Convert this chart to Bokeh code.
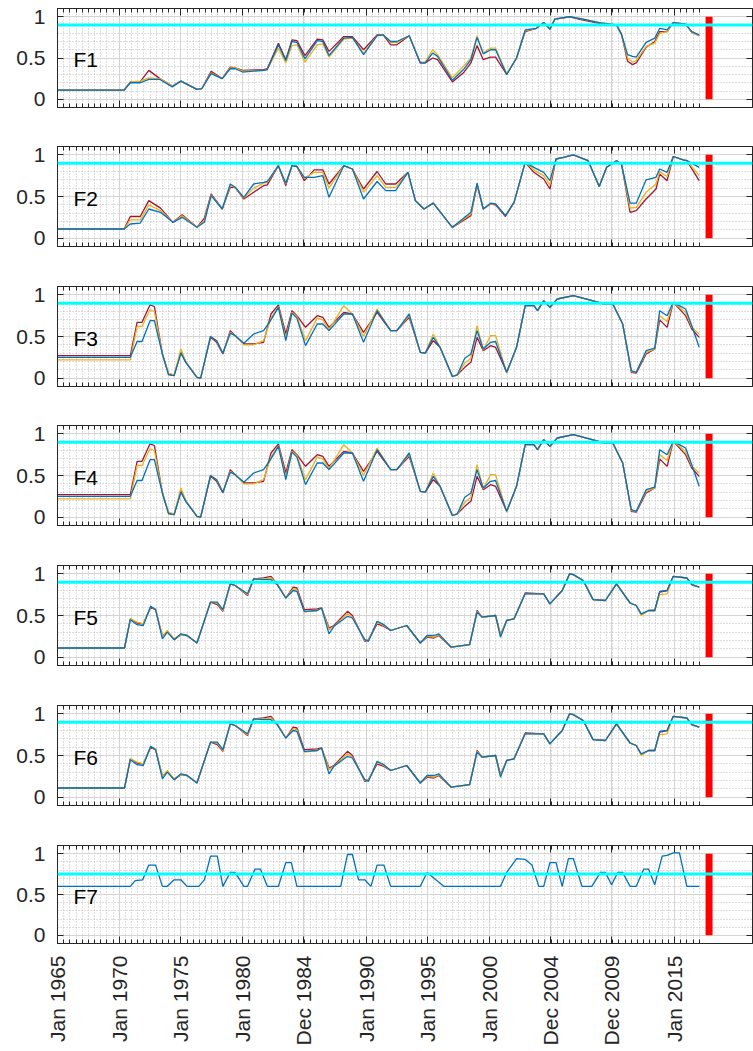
import math
import numpy as np
from bokeh.plotting import figure
from bokeh.layouts import column
from bokeh.models import FixedTicker, LinearAxis, Span, Label, Range1d, Grid
from bokeh.embed import file_html
from bokeh.resources import INLINE

# ---------------- data ----------------
tick_years = [1965.0, 1970.0, 1975.0, 1980.0, 1984.92, 1990.0, 1995.0, 2000.0, 2004.92, 2009.92, 2015.0]
tick_labels = ["Jan 1965", "Jan 1970", "Jan 1975", "Jan 1980", "Dec 1984", "Jan 1990",
               "Jan 1995", "Jan 2000", "Dec 2004", "Dec 2009", "Jan 2015"]
ytick_vals = [0, 0.5, 1]
ytick_labels = ["0", "0.5", "1"]
panel_names = ["F1", "F2", "F3", "F4", "F5", "F6", "F7"]
thresholds = [0.9, 0.9, 0.9, 0.9, 0.9, 0.9, 0.75]
cutoff_year = 2017.8
cutoff_low = 0.0
cutoff_high = 1.0

f1_x = [1965.0, 1970.4, 1970.9, 1971.7, 1972.4, 1973.3, 1974.3, 1975.0, 1976.3, 1976.7,
        1977.45, 1978.35, 1979.0, 1979.4, 1980.0, 1981.7, 1982.0, 1982.9, 1983.5, 1984.0,
        1984.4, 1985.05, 1986.05, 1986.5, 1987.0, 1988.2, 1988.9, 1989.8, 1990.9, 1991.4,
        1992.0, 1992.5, 1993.5, 1994.4, 1994.8, 1995.4, 1995.8, 1997.0, 1997.9, 1998.5,
        1999.0, 1999.5, 2000.1, 2000.5, 2001.4, 2002.2, 2002.9, 2003.8, 2004.4, 2004.9,
        2005.3, 2006.5, 2007.6, 2008.9, 2010.3, 2010.7, 2011.2, 2011.6, 2011.9, 2012.7,
        2013.4, 2013.8, 2014.4, 2014.9, 2015.9, 2016.4, 2017.0]
f1_red = [0.11, 0.11, 0.21, 0.21, 0.35, 0.25, 0.16, 0.22, 0.12, 0.13,
          0.34, 0.25, 0.39, 0.38, 0.35, 0.36, 0.37, 0.68, 0.48, 0.72,
          0.71, 0.53, 0.73, 0.72, 0.58, 0.76, 0.76, 0.60, 0.78, 0.78,
          0.66, 0.66, 0.77, 0.44, 0.44, 0.50, 0.48, 0.21, 0.32, 0.44,
          0.65, 0.48, 0.51, 0.51, 0.30, 0.50, 0.82, 0.86, 0.93, 0.85,
          0.97, 1.00, 0.96, 0.92, 0.90, 0.79, 0.46, 0.42, 0.44, 0.63,
          0.70, 0.82, 0.82, 0.93, 0.91, 0.81, 0.77]
f1_yellow = [0.11, 0.11, 0.21, 0.22, 0.26, 0.25, 0.16, 0.22, 0.12, 0.13,
             0.32, 0.25, 0.38, 0.38, 0.34, 0.35, 0.36, 0.62, 0.44, 0.65,
             0.66, 0.45, 0.66, 0.67, 0.51, 0.73, 0.74, 0.56, 0.77, 0.78,
             0.69, 0.69, 0.77, 0.45, 0.45, 0.60, 0.54, 0.26, 0.40, 0.50,
             0.77, 0.56, 0.62, 0.62, 0.31, 0.50, 0.83, 0.86, 0.93, 0.85,
             0.97, 1.00, 0.97, 0.93, 0.90, 0.79, 0.50, 0.45, 0.47, 0.64,
             0.68, 0.80, 0.82, 0.93, 0.91, 0.81, 0.77]
f1_blue = [0.11, 0.11, 0.20, 0.20, 0.24, 0.24, 0.15, 0.22, 0.12, 0.13,
           0.31, 0.25, 0.37, 0.37, 0.33, 0.35, 0.36, 0.66, 0.47, 0.70,
           0.69, 0.49, 0.71, 0.70, 0.53, 0.74, 0.75, 0.54, 0.77, 0.78,
           0.70, 0.70, 0.77, 0.44, 0.44, 0.56, 0.52, 0.23, 0.36, 0.48,
           0.75, 0.55, 0.60, 0.60, 0.30, 0.50, 0.84, 0.86, 0.93, 0.85,
           0.97, 1.00, 0.97, 0.93, 0.90, 0.79, 0.54, 0.52, 0.51, 0.69,
           0.74, 0.86, 0.84, 0.93, 0.91, 0.82, 0.78]

f2_x = [1965.0, 1970.4, 1970.9, 1971.7, 1972.4, 1973.35, 1974.35, 1975.1, 1976.3, 1976.9,
        1977.45, 1978.35, 1979.0, 1979.4, 1980.1, 1980.9, 1981.7, 1982.0, 1982.9, 1983.5,
        1984.0, 1984.4, 1985.0, 1985.8, 1986.5, 1987.0, 1988.2, 1988.9, 1989.8, 1990.9,
        1991.6, 1992.4, 1993.4, 1994.0, 1994.7, 1995.45, 1997.0, 1998.5, 1999.0, 1999.5,
        2000.1, 2000.5, 2001.3, 2002.0, 2002.9, 2003.6, 2004.4, 2004.9, 2005.4, 2006.0,
        2006.8, 2008.0, 2008.9, 2009.5, 2010.3, 2010.7, 2011.4, 2011.9, 2012.7, 2013.5,
        2013.8, 2014.4, 2014.9, 2015.7, 2016.0, 2017.0]
f2_red = [0.11, 0.11, 0.26, 0.26, 0.45, 0.36, 0.19, 0.28, 0.13, 0.24,
          0.53, 0.35, 0.61, 0.61, 0.47, 0.55, 0.63, 0.64, 0.87, 0.63,
          0.87, 0.86, 0.69, 0.82, 0.82, 0.65, 0.87, 0.83, 0.59, 0.80,
          0.65, 0.65, 0.79, 0.45, 0.35, 0.42, 0.13, 0.27, 0.64, 0.35,
          0.41, 0.40, 0.26, 0.43, 0.91, 0.79, 0.71, 0.59, 0.95, 0.97,
          1.00, 0.93, 0.62, 0.85, 0.93, 0.89, 0.31, 0.33, 0.47, 0.59,
          0.77, 0.69, 0.98, 0.94, 0.93, 0.69]
f2_yellow = [0.11, 0.11, 0.22, 0.22, 0.40, 0.33, 0.19, 0.27, 0.13, 0.21,
             0.52, 0.35, 0.63, 0.61, 0.48, 0.60, 0.66, 0.67, 0.87, 0.65,
             0.87, 0.86, 0.72, 0.79, 0.79, 0.60, 0.87, 0.83, 0.55, 0.75,
             0.61, 0.61, 0.79, 0.45, 0.35, 0.42, 0.13, 0.29, 0.65, 0.35,
             0.41, 0.41, 0.27, 0.43, 0.91, 0.82, 0.75, 0.64, 0.95, 0.97,
             1.00, 0.93, 0.62, 0.85, 0.93, 0.89, 0.36, 0.37, 0.55, 0.65,
             0.80, 0.74, 0.98, 0.94, 0.93, 0.75]
f2_blue = [0.11, 0.11, 0.17, 0.18, 0.35, 0.31, 0.19, 0.25, 0.13, 0.19,
           0.51, 0.35, 0.65, 0.61, 0.49, 0.65, 0.67, 0.68, 0.87, 0.66,
           0.87, 0.86, 0.73, 0.73, 0.75, 0.49, 0.87, 0.83, 0.47, 0.68,
           0.57, 0.57, 0.79, 0.45, 0.35, 0.42, 0.13, 0.31, 0.66, 0.35,
           0.42, 0.41, 0.27, 0.43, 0.91, 0.85, 0.79, 0.69, 0.95, 0.97,
           1.00, 0.93, 0.62, 0.85, 0.93, 0.89, 0.42, 0.42, 0.70, 0.73,
           0.83, 0.79, 0.98, 0.94, 0.93, 0.85]

f3_x = [1965.0, 1970.9, 1971.45, 1971.85, 1972.5, 1972.85, 1973.5, 1974.0, 1974.45, 1975.0,
        1975.4, 1976.3, 1976.6, 1977.4, 1977.9, 1978.4, 1979.0, 1979.4, 1980.1, 1980.9,
        1981.7, 1982.3, 1982.9, 1983.5, 1984.0, 1984.4, 1985.1, 1986.05, 1986.5, 1987.0,
        1988.2, 1988.9, 1989.8, 1990.9, 1992.0, 1992.5, 1993.5, 1994.4, 1994.8, 1995.45,
        1996.0, 1997.0, 1997.4, 1998.0, 1998.5, 1999.0, 1999.5, 2000.1, 2000.5, 2001.4,
        2002.2, 2002.9, 2003.6, 2003.9, 2004.4, 2004.9, 2005.5, 2006.8, 2008.1, 2009.3,
        2010.0, 2010.8, 2011.5, 2011.9, 2012.7, 2013.4, 2013.8, 2014.4, 2014.9, 2015.9,
        2016.4, 2017.0]
f3_red = [0.27, 0.27, 0.67, 0.67, 0.88, 0.86, 0.29, 0.05, 0.03, 0.31,
          0.19, 0.01, 0.00, 0.49, 0.43, 0.29, 0.57, 0.51, 0.41, 0.41,
          0.43, 0.77, 0.88, 0.53, 0.81, 0.75, 0.61, 0.75, 0.73, 0.61,
          0.79, 0.77, 0.55, 0.79, 0.57, 0.57, 0.73, 0.31, 0.30, 0.45,
          0.37, 0.02, 0.04, 0.13, 0.19, 0.49, 0.33, 0.39, 0.37, 0.07,
          0.37, 0.87, 0.87, 0.81, 0.93, 0.85, 0.95, 0.99, 0.94, 0.89,
          0.89, 0.65, 0.07, 0.06, 0.29, 0.35, 0.70, 0.61, 0.91, 0.75,
          0.59, 0.49]
f3_yellow = [0.22, 0.22, 0.62, 0.62, 0.82, 0.80, 0.29, 0.06, 0.04, 0.35,
             0.20, 0.01, 0.00, 0.50, 0.45, 0.30, 0.55, 0.51, 0.40, 0.40,
             0.45, 0.72, 0.86, 0.48, 0.79, 0.74, 0.45, 0.72, 0.70, 0.58,
             0.87, 0.77, 0.50, 0.83, 0.57, 0.57, 0.75, 0.31, 0.30, 0.53,
             0.37, 0.02, 0.04, 0.18, 0.24, 0.63, 0.34, 0.51, 0.51, 0.06,
             0.37, 0.87, 0.87, 0.81, 0.93, 0.85, 0.95, 0.99, 0.94, 0.89,
             0.89, 0.65, 0.08, 0.07, 0.31, 0.35, 0.75, 0.68, 0.91, 0.79,
             0.61, 0.53]
f3_blue = [0.25, 0.25, 0.44, 0.44, 0.69, 0.69, 0.29, 0.04, 0.03, 0.30,
           0.19, 0.01, 0.00, 0.50, 0.45, 0.30, 0.54, 0.51, 0.42, 0.53,
           0.57, 0.70, 0.85, 0.45, 0.78, 0.72, 0.39, 0.65, 0.65, 0.57,
           0.77, 0.77, 0.43, 0.81, 0.57, 0.57, 0.77, 0.31, 0.30, 0.49,
           0.37, 0.02, 0.04, 0.24, 0.29, 0.57, 0.35, 0.43, 0.44, 0.07,
           0.37, 0.87, 0.87, 0.81, 0.93, 0.85, 0.95, 0.99, 0.94, 0.89,
           0.89, 0.65, 0.09, 0.07, 0.33, 0.36, 0.81, 0.75, 0.91, 0.83,
           0.63, 0.37]

# F4 reads the same as F3 in the picture
f4_x, f4_red, f4_yellow, f4_blue = f3_x, f3_red, f3_yellow, f3_blue

f5_x = [1965.0, 1970.43, 1970.9, 1971.45, 1971.95, 1972.55, 1972.95, 1973.5, 1973.9, 1974.45,
        1975.0, 1975.5, 1976.3, 1977.4, 1977.95, 1978.4, 1979.0, 1979.4, 1980.4, 1980.9,
        1981.7, 1982.3, 1982.8, 1983.5, 1984.1, 1984.4, 1985.0, 1986.05, 1986.4, 1987.0,
        1987.4, 1988.5, 1988.9, 1989.9, 1990.2, 1990.9, 1991.45, 1992.0, 1993.3, 1994.4,
        1994.95, 1995.5, 1995.9, 1996.9, 1998.4, 1999.0, 1999.4, 2000.5, 2000.9, 2001.4,
        2002.0, 2002.9, 2004.4, 2004.9, 2005.9, 2006.5, 2006.8, 2007.6, 2008.4, 2009.4,
        2010.3, 2011.4, 2011.9, 2012.3, 2012.9, 2013.4, 2013.8, 2014.4, 2014.9, 2016.0,
        2016.4, 2017.0]
f5_red = [0.11, 0.11, 0.46, 0.41, 0.40, 0.60, 0.57, 0.25, 0.31, 0.21,
          0.27, 0.26, 0.17, 0.66, 0.63, 0.55, 0.88, 0.86, 0.74, 0.94,
          0.95, 0.97, 0.88, 0.71, 0.84, 0.83, 0.57, 0.58, 0.59, 0.35,
          0.38, 0.55, 0.50, 0.19, 0.21, 0.40, 0.37, 0.32, 0.38, 0.17,
          0.24, 0.23, 0.26, 0.12, 0.15, 0.56, 0.48, 0.50, 0.27, 0.44,
          0.46, 0.77, 0.76, 0.64, 0.80, 1.00, 0.99, 0.92, 0.69, 0.68,
          0.88, 0.65, 0.62, 0.51, 0.56, 0.56, 0.78, 0.80, 0.97, 0.95,
          0.87, 0.84]
f5_yellow = [0.11, 0.11, 0.46, 0.42, 0.40, 0.60, 0.58, 0.25, 0.32, 0.22,
             0.27, 0.26, 0.17, 0.66, 0.65, 0.56, 0.88, 0.86, 0.75, 0.94,
             0.94, 0.95, 0.88, 0.71, 0.82, 0.81, 0.54, 0.56, 0.59, 0.33,
             0.37, 0.52, 0.48, 0.20, 0.21, 0.42, 0.38, 0.32, 0.38, 0.17,
             0.25, 0.24, 0.27, 0.12, 0.15, 0.55, 0.48, 0.50, 0.26, 0.44,
             0.46, 0.76, 0.76, 0.64, 0.80, 1.00, 0.99, 0.92, 0.69, 0.68,
             0.88, 0.65, 0.62, 0.50, 0.56, 0.56, 0.75, 0.76, 0.97, 0.95,
             0.87, 0.84]
f5_blue = [0.11, 0.11, 0.45, 0.39, 0.38, 0.61, 0.57, 0.22, 0.30, 0.21,
           0.28, 0.26, 0.17, 0.66, 0.66, 0.57, 0.88, 0.86, 0.76, 0.94,
           0.93, 0.93, 0.87, 0.71, 0.80, 0.79, 0.55, 0.56, 0.59, 0.28,
           0.37, 0.49, 0.47, 0.21, 0.19, 0.43, 0.39, 0.32, 0.38, 0.17,
           0.26, 0.26, 0.28, 0.12, 0.15, 0.54, 0.48, 0.50, 0.24, 0.44,
           0.46, 0.76, 0.76, 0.64, 0.80, 1.00, 0.99, 0.92, 0.69, 0.68,
           0.88, 0.65, 0.62, 0.52, 0.56, 0.56, 0.79, 0.80, 0.97, 0.95,
           0.87, 0.84]

# F6 reads the same as F5 in the picture
f6_x, f6_red, f6_yellow, f6_blue = f5_x, f5_red, f5_yellow, f5_blue

f7_x = [1965.0, 1970.9, 1971.3, 1971.9, 1972.4, 1972.95, 1973.5, 1973.9, 1974.45, 1975.0,
        1975.5, 1976.45, 1976.9, 1977.4, 1977.95, 1978.4, 1979.0, 1979.4, 1980.1, 1980.4,
        1981.0, 1981.45, 1982.0, 1982.9, 1983.5, 1983.95, 1984.4, 1987.95, 1988.5, 1988.9,
        1989.4, 1989.9, 1990.4, 1990.9, 1991.45, 1992.0, 1994.4, 1994.95, 1996.3, 2000.9,
        2001.4, 2002.2, 2002.9, 2003.45, 2004.0, 2004.4, 2004.9, 2005.4, 2005.9, 2006.4,
        2006.8, 2007.5, 2008.3, 2009.0, 2009.4, 2009.9, 2010.4, 2010.8, 2011.4, 2011.9,
        2012.5, 2012.9, 2013.4, 2014.0, 2014.4, 2014.9, 2015.4, 2016.0, 2017.0]
f7_blue = [0.60, 0.60, 0.67, 0.68, 0.86, 0.86, 0.60, 0.60, 0.68, 0.68,
           0.60, 0.60, 0.68, 0.97, 0.97, 0.60, 0.77, 0.77, 0.60, 0.60,
           0.81, 0.81, 0.60, 0.60, 0.89, 0.89, 0.60, 0.60, 0.99, 0.99,
           0.68, 0.68, 0.60, 0.86, 0.86, 0.60, 0.60, 0.77, 0.60, 0.60,
           0.77, 0.94, 0.93, 0.86, 0.60, 0.60, 0.89, 0.89, 0.60, 0.94,
           0.94, 0.60, 0.60, 0.77, 0.77, 0.62, 0.77, 0.77, 0.60, 0.60,
           0.81, 0.81, 0.62, 0.97, 0.98, 1.01, 1.01, 0.60, 0.60]

# ---------------- styling ----------------
FONT = "Liberation Sans"
AX = "#262626"
RED, YELLOW, BLUE = "#A2142F", "#EDB120", "#0072BD"

panels = [
    (f1_x, [(f1_red, RED), (f1_yellow, YELLOW), (f1_blue, BLUE)]),
    (f2_x, [(f2_red, RED), (f2_yellow, YELLOW), (f2_blue, BLUE)]),
    (f3_x, [(f3_red, RED), (f3_yellow, YELLOW), (f3_blue, BLUE)]),
    (f4_x, [(f4_red, RED), (f4_yellow, YELLOW), (f4_blue, BLUE)]),
    (f5_x, [(f5_red, RED), (f5_yellow, YELLOW), (f5_blue, BLUE)]),
    (f6_x, [(f6_red, RED), (f6_yellow, YELLOW), (f6_blue, BLUE)]),
    (f7_x, [(f7_blue, BLUE)]),
]

# figure heights, top borders and frame heights (page has no margin with Bokeh's template)
heights = [126, 140, 139, 140, 140, 140, 225]
tops = [8, 20, 20, 20, 20, 20, 20]
frames = [99, 100, 100, 100, 100, 100, 98]

minor_years = [round(v, 2) for v in np.arange(1965.0, 2017.01, 0.5)]
yminor = [round(v, 2) for v in np.arange(-0.1, 1.101, 0.1)]


def style_axis(ax, tick_in, minor_in, labels):
    ax.axis_line_color = AX
    ax.axis_line_width = 1
    ax.major_tick_line_color = AX
    ax.major_tick_in = tick_in
    ax.major_tick_out = 0
    if minor_in > 0:
        ax.minor_tick_line_color = AX
        ax.minor_tick_in = minor_in
    else:
        ax.minor_tick_line_color = None
        ax.minor_tick_in = 0
    ax.minor_tick_out = 0
    ax.major_label_text_font = FONT
    ax.major_label_text_color = AX
    if labels is None:
        ax.major_label_text_font_size = "0px"
        ax.major_label_standoff = 0
    else:
        ax.major_label_text_font_size = "21px"
        ax.major_label_standoff = 12
        ax.major_label_overrides = labels


figs = []
for i, (xs, series) in enumerate(panels):
    last = (i == len(panels) - 1)
    p = figure(width=753, height=heights[i],
               x_range=Range1d(1965.0, 2021.32), y_range=Range1d(-0.1, 1.1),
               output_backend="svg", toolbar_location=None, title=None,
               x_axis_type=None, y_axis_type=None,
               min_border_left=57, min_border_right=1,
               min_border_top=tops[i],
               min_border_bottom=heights[i] - tops[i] - frames[i])
    p.outline_line_color = AX
    p.outline_line_width = 1
    p.background_fill_color = "white"
    p.border_fill_color = "white"

    xt = FixedTicker(ticks=tick_years, minor_ticks=minor_years)
    yt = FixedTicker(ticks=ytick_vals, minor_ticks=yminor)

    p.add_layout(Grid(dimension=0, ticker=xt, grid_line_color="#D4D4D4",
                      minor_grid_line_color="#BDBDBD", minor_grid_line_dash="1 2"))
    p.add_layout(Grid(dimension=1, ticker=yt, grid_line_color="#D4D4D4",
                      minor_grid_line_color="#BDBDBD", minor_grid_line_dash="1 2"))

    empty_x = {t: "" for t in tick_years}
    empty_y = {t: "" for t in ytick_vals}

    below = LinearAxis(ticker=xt)
    if last:
        style_axis(below, 7, 4, {t: l for t, l in zip(tick_years, tick_labels)})
        below.major_label_orientation = math.pi / 2
    else:
        below.major_label_overrides = empty_x
        style_axis(below, 7, 4, None)
    p.add_layout(below, "below")

    above = LinearAxis(ticker=xt)
    above.major_label_overrides = empty_x
    style_axis(above, 7, 4, None)
    p.add_layout(above, "above")

    left = LinearAxis(ticker=yt)
    style_axis(left, 6, 0, {t: l for t, l in zip(ytick_vals, ytick_labels)})
    p.add_layout(left, "left")

    right = LinearAxis(ticker=yt)
    right.major_label_overrides = empty_y
    style_axis(right, 6, 0, None)
    p.add_layout(right, "right")

    for ys, col in series:
        p.line(xs, ys, line_color=col, line_width=1.3)

    p.segment(x0=[cutoff_year], y0=[cutoff_low], x1=[cutoff_year], y1=[cutoff_high],
              line_color="#FF0000", line_width=7)

    p.add_layout(Span(location=thresholds[i], dimension="width",
                      line_color="#00FFFF", line_width=3))

    p.add_layout(Label(x=1966.3, y=0.48, text=panel_names[i], text_font=FONT,
                       text_font_size="21px", text_color="black",
                       text_baseline="middle", text_align="left"))
    figs.append(p)

layout = column(*figs, spacing=0)
open("out.html", "w").write(file_html(layout, INLINE))
